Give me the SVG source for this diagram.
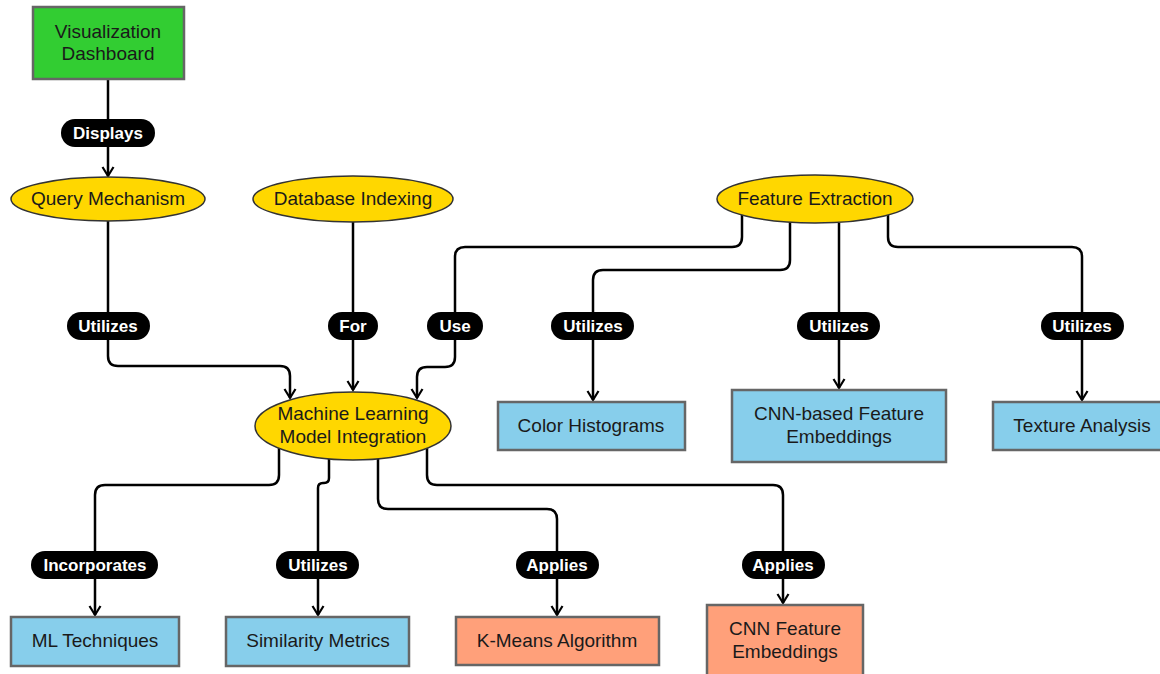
<svg xmlns="http://www.w3.org/2000/svg" width="1160" height="674" viewBox="0 0 1160 674">
<style>
.bg{fill:#ffffff}
.rect{stroke:#666;stroke-width:2.5}
.green{fill:#32cd32}
.blue{fill:#87ceeb}
.orange{fill:#ffa07a}
.ell{fill:#ffd700;stroke:#333;stroke-width:1.5}
.nt{font-family:"Liberation Sans",Arial,sans-serif;font-size:19px;fill:#1a1a1a;text-anchor:middle}
.edge{fill:none;stroke:#000;stroke-width:2.5;marker-end:url(#arrow)}
.pill{fill:#000}
.lt{font-family:"Liberation Sans",Arial,sans-serif;font-size:17px;font-weight:bold;fill:#fff;text-anchor:middle}
</style>
<defs>
<marker id="arrow" markerUnits="userSpaceOnUse" markerWidth="14" markerHeight="14" refX="11" refY="7" orient="auto">
<path d="M2,1.5 L11,7 L2,12.5" fill="none" stroke="#000" stroke-width="2.2"/>
</marker>
</defs>
<rect class="bg" x="0" y="0" width="1160" height="674"/>
<g id="connectors">
<path class="edge" d="M108,79 V176"/>
<path class="edge" d="M108,221 V356 Q108,366 118,366 H280 Q290,366 290,376 V398"/>
<path class="edge" d="M353,222 V390"/>
<path class="edge" d="M742,215 V237 Q742,247 732,247 H465 Q455,247 455,257 V357 Q455,367 445,367 H427 Q417,367 417,377 V398"/>
<path class="edge" d="M790,222 V260 Q790,270 780,270 H603 Q593,270 593,280 V400"/>
<path class="edge" d="M839,223 V388"/>
<path class="edge" d="M888,215 V237 Q888,247 898,247 H1072 Q1082,247 1082,257 V400"/>
<path class="edge" d="M279,448 V475 Q279,485 269,485 H105 Q95,485 95,495 V615"/>
<path class="edge" d="M329,459 V478 Q329,483 324,483 H323 Q318,483 318,488 V615"/>
<path class="edge" d="M378,459 V499 Q378,509 388,509 H547 Q557,509 557,519 V615"/>
<path class="edge" d="M427,448 V475 Q427,485 437,485 H773 Q783,485 783,495 V603"/>
</g>
<g id="edge-labels">
<rect class="pill" x="61" y="119" width="94" height="28" rx="14"/><text class="lt" x="108" y="139">Displays</text>
<rect class="pill" x="67" y="312" width="83" height="28" rx="14"/><text class="lt" x="108" y="332">Utilizes</text>
<rect class="pill" x="328" y="312" width="50" height="28" rx="14"/><text class="lt" x="353" y="332">For</text>
<rect class="pill" x="427" y="312" width="56" height="28" rx="14"/><text class="lt" x="455" y="332">Use</text>
<rect class="pill" x="551" y="312" width="83" height="28" rx="14"/><text class="lt" x="593" y="332">Utilizes</text>
<rect class="pill" x="797" y="312" width="83" height="28" rx="14"/><text class="lt" x="839" y="332">Utilizes</text>
<rect class="pill" x="1041" y="312" width="83" height="28" rx="14"/><text class="lt" x="1082" y="332">Utilizes</text>
<rect class="pill" x="31" y="551" width="127" height="28" rx="14"/><text class="lt" x="95" y="571">Incorporates</text>
<rect class="pill" x="276" y="551" width="83" height="28" rx="14"/><text class="lt" x="318" y="571">Utilizes</text>
<rect class="pill" x="516" y="551" width="83" height="28" rx="14"/><text class="lt" x="557" y="571">Applies</text>
<rect class="pill" x="742" y="551" width="83" height="28" rx="14"/><text class="lt" x="783" y="571">Applies</text>
</g>
<g id="node-dashboard">
<rect class="rect green" x="33" y="7" width="151" height="72"/>
<text class="nt" x="108" y="38">Visualization</text>
<text class="nt" x="108" y="60">Dashboard</text>
</g>
<g id="node-query">
<ellipse class="ell" cx="108" cy="199" rx="97" ry="22"/>
<text class="nt" x="108" y="205">Query Mechanism</text>
</g>
<g id="node-database">
<ellipse class="ell" cx="353" cy="199" rx="100" ry="23"/>
<text class="nt" x="353" y="205">Database Indexing</text>
</g>
<g id="node-feature">
<ellipse class="ell" cx="815" cy="199" rx="98" ry="24"/>
<text class="nt" x="815" y="205">Feature Extraction</text>
</g>
<g id="node-ml">
<ellipse class="ell" cx="353" cy="426" rx="98" ry="34"/>
<text class="nt" x="353" y="420">Machine Learning</text>
<text class="nt" x="353" y="443">Model Integration</text>
</g>
<g id="node-color">
<rect class="rect blue" x="498" y="402" width="187" height="48"/>
<text class="nt" x="591" y="432">Color Histograms</text>
</g>
<g id="node-cnnbased">
<rect class="rect blue" x="732" y="390" width="214" height="72"/>
<text class="nt" x="839" y="420">CNN-based Feature</text>
<text class="nt" x="839" y="443">Embeddings</text>
</g>
<g id="node-texture">
<rect class="rect blue" x="993" y="402" width="178" height="48"/>
<text class="nt" x="1082" y="432">Texture Analysis</text>
</g>
<g id="node-mltech">
<rect class="rect blue" x="11" y="617" width="168" height="49"/>
<text class="nt" x="95" y="647">ML Techniques</text>
</g>
<g id="node-similarity">
<rect class="rect blue" x="226" y="617" width="183" height="49"/>
<text class="nt" x="318" y="647">Similarity Metrics</text>
</g>
<g id="node-kmeans">
<rect class="rect orange" x="456" y="617" width="203" height="48"/>
<text class="nt" x="557" y="647">K-Means Algorithm</text>
</g>
<g id="node-cnnfeature">
<rect class="rect orange" x="707" y="605" width="156" height="72"/>
<text class="nt" x="785" y="635">CNN Feature</text>
<text class="nt" x="785" y="658">Embeddings</text>
</g>
</svg>
